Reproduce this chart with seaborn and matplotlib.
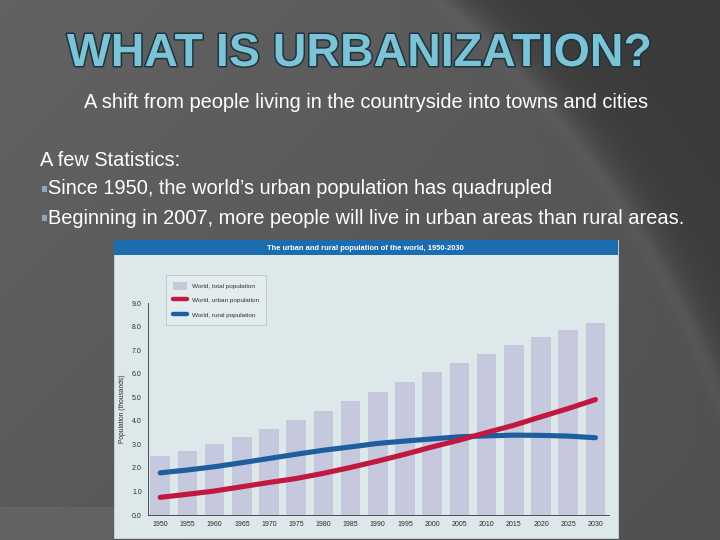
import numpy as np
import pandas as pd
import matplotlib
matplotlib.use("Agg")
import matplotlib.pyplot as plt
import matplotlib.patheffects as pe
from matplotlib.patches import Rectangle, Patch
from matplotlib.lines import Line2D
import seaborn as sns

# values (billions)
years = [1950, 1955, 1960, 1965, 1970, 1975, 1980, 1985, 1990,
         1995, 2000, 2005, 2010, 2015, 2020, 2025, 2030]
total_pop = [2.50, 2.72, 3.00, 3.30, 3.66, 4.05, 4.40, 4.82, 5.22,
             5.63, 6.06, 6.45, 6.85, 7.20, 7.55, 7.84, 8.15]
urban_pop = [0.75, 0.88, 1.02, 1.20, 1.38, 1.55, 1.77, 2.02, 2.29,
             2.58, 2.89, 3.18, 3.50, 3.81, 4.17, 4.52, 4.90]
rural_pop = [1.79, 1.91, 2.05, 2.22, 2.40, 2.58, 2.75, 2.89, 3.04,
             3.14, 3.23, 3.32, 3.36, 3.39, 3.38, 3.35, 3.28]
y_ticks = [0, 1, 2, 3, 4, 5, 6, 7, 8, 9]

legend_labels = ["World, total population", "World, urban population", "World, rural population"]

df = pd.DataFrame({"year": years, "total": total_pop, "urban": urban_pop, "rural": rural_pop})
df["pos"] = np.arange(len(df))

sns.set_style("white")
plt.rcParams["font.family"] = ["Liberation Sans", "DejaVu Sans"]

W, H = 720, 540
fig = plt.figure(figsize=(7.2, 5.4), dpi=100)

# slide background: grey, with a darker region outside a big arc (top right)
bg = fig.add_axes([0, 0, 1, 1], zorder=-10)
px, py = np.meshgrid(np.arange(W) + 0.5, np.arange(H) + 0.5)
dist = np.sqrt((px + 200) ** 2 + (py - 750) ** 2)
inside = 1 / (1 + np.exp((dist - 1000) / 12))
shade = 0.235 + inside * (0.12 - 0.04 * px / W + 0.03 * (1 - py / H))
shade += 0.03 * np.exp(-((dist - 985) / 10) ** 2)
shade[(py > 507) & (px < 114)] += 0.035
bg.imshow(np.dstack([shade] * 3).clip(0, 1), extent=[0, 1, 0, 1], aspect="auto", origin="upper")
bg.set_axis_off()

def fx(v):
    return v / W

def fy(v):
    return 1 - v / H

# slide texts
fig.text(fx(359), fy(54), "WHAT IS URBANIZATION?", ha="center", va="center",
         fontsize=33.5, fontweight="bold", color="#7cc3d5",
         path_effects=[pe.withStroke(linewidth=2.2, foreground="#1d3440")])
fig.text(fx(366), fy(102), "A shift from people living in the countryside into towns and cities",
         ha="center", va="center", fontsize=14.4, color="white")
fig.text(fx(40), fy(160), "A few Statistics:", ha="left", va="center", fontsize=14.4, color="white")
fig.text(fx(48), fy(189), "Since 1950, the world\u2019s urban population has quadrupled",
         ha="left", va="center", fontsize=14.4, color="white")
fig.text(fx(48), fy(218), "Beginning in 2007, more people will live in urban areas than rural areas.",
         ha="left", va="center", fontsize=14.4, color="white")
for yy in [189, 218]:
    fig.patches.append(Rectangle((fx(41.5), fy(yy + 2.5)), 5 / W, 5 / H, transform=fig.transFigure,
                                 facecolor="#8fa7b3", edgecolor="none"))

# chart panel
fig.patches.append(Rectangle((fx(114), fy(538)), (618 - 114) / W, (538 - 240) / H,
                             transform=fig.transFigure, facecolor="#dde8eb",
                             edgecolor="#c9d6da", lw=0.6, zorder=-5))
fig.patches.append(Rectangle((fx(114), fy(255)), (618 - 114) / W, 15 / H,
                             transform=fig.transFigure, facecolor="#1b6db0",
                             edgecolor="none", zorder=-5))
fig.text(fx(365), fy(248), "The urban and rural population of the world, 1950-2030",
         ha="center", va="center", fontsize=5.4, fontweight="bold", color="white")

ax = fig.add_axes([fx(148), fy(515), (609 - 148) / W, (515 - 303) / H])
ax.set_facecolor("none")

sns.barplot(data=df, x="pos", y="total", native_scale=True, color="#c6c9de",
            saturation=1, width=0.72, edgecolor="none", linewidth=0, ax=ax, zorder=1)
sns.lineplot(data=df, x="pos", y="rural", color="#1d5e9e", lw=3.7,
             solid_capstyle="round", ax=ax, zorder=3)
sns.lineplot(data=df, x="pos", y="urban", color="#c2173f", lw=3.7,
             solid_capstyle="round", ax=ax, zorder=3)

ax.set_xlim(-0.45, len(years) - 0.5)
ax.set_ylim(0, 9)
ax.set_yticks(y_ticks)
ax.set_yticklabels([f"{v:.1f}" for v in y_ticks], fontsize=5, color="#2a2a2a")
ax.set_xticks(df["pos"])
ax.set_xticklabels([str(y) for y in years], fontsize=5, color="#2a2a2a")
ax.set_xticks(np.arange(len(years)) + 0.5, minor=True)
ax.tick_params(axis="x", which="major", length=0, pad=4)
ax.tick_params(axis="x", which="minor", length=2.5, width=0.6, color="#333333", direction="out")
ax.tick_params(axis="y", length=2.5, width=0.6, color="#333333", direction="out", pad=2)
ax.set_xlabel("")
ax.set_ylabel("Population (thousands)", fontsize=4.8, color="#2a2a2a", labelpad=4)
for s in ["top", "right"]:
    ax.spines[s].set_visible(False)
for s in ["left", "bottom"]:
    ax.spines[s].set_color("#333333")
    ax.spines[s].set_linewidth(0.6)

handles = [Patch(facecolor="#c6c9de", edgecolor="none"),
           Line2D([], [], color="#c2173f", lw=3.2, solid_capstyle="round"),
           Line2D([], [], color="#1d5e9e", lw=3.2, solid_capstyle="round")]
leg = fig.legend(handles, legend_labels, loc="upper left",
                 bbox_to_anchor=(fx(163), fy(272)), fontsize=4.6,
                 frameon=True, fancybox=False, handlelength=2.2, handleheight=1.6,
                 labelspacing=1.0, borderpad=1.0, handletextpad=0.9)
leg.get_frame().set_facecolor("#e4edef")
leg.get_frame().set_edgecolor("#a9b6ba")
leg.get_frame().set_linewidth(0.5)
for t in leg.get_texts():
    t.set_color("#333333")

fig.savefig("out.png", dpi=100)
